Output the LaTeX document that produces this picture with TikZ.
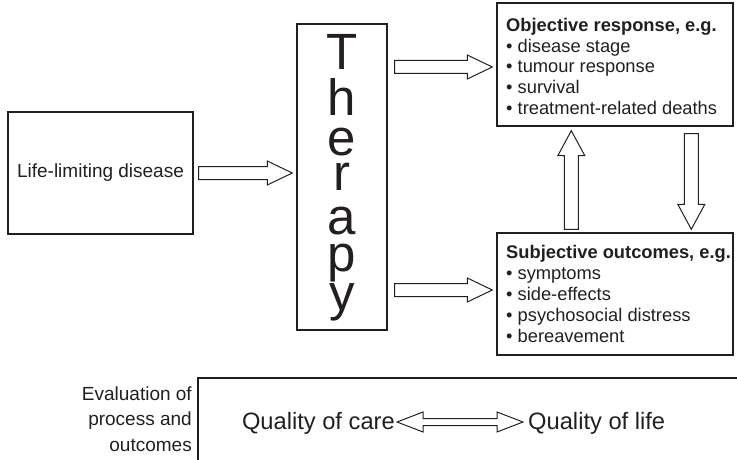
\documentclass[tikz,border=0pt]{standalone}
\usepackage{fontspec}
\setmainfont{Liberation Sans}
\usetikzlibrary{calc}
\definecolor{ink}{HTML}{231F20}
\newcommand\harrowblk[2]{\draw[blk] let \p1=(#1), \p2=(#2) in
  (\x1,\y1+6.5pt) -- (\x2-25pt,\y1+6.5pt) -- (\x2-25pt,\y1+12pt) -- (\x2,\y1)
  -- (\x2-25pt,\y1-12pt) -- (\x2-25pt,\y1-6.5pt) -- (\x1,\y1-6.5pt) -- cycle;}
\newcommand\uarrowblk[2]{\draw[blk] let \p1=(#1), \p2=(#2) in
  (\x1-7pt,\y1) -- (\x1-7pt,\y2-25pt) -- (\x1-13.5pt,\y2-25pt) -- (\x1,\y2)
  -- (\x1+13.5pt,\y2-25pt) -- (\x1+7pt,\y2-25pt) -- (\x1+7pt,\y1) -- cycle;}
\newcommand\darrowblk[2]{\draw[blk] let \p1=(#1), \p2=(#2) in
  (\x1-7pt,\y1) -- (\x1-7pt,\y2+25pt) -- (\x1-13.5pt,\y2+25pt) -- (\x1,\y2)
  -- (\x1+13.5pt,\y2+25pt) -- (\x1+7pt,\y2+25pt) -- (\x1+7pt,\y1) -- cycle;}
\newcommand\dblarrowblk[2]{\draw[blk] let \p1=(#1), \p2=(#2) in
  (\x1,\y1) -- (\x1+26pt,\y1+10pt) -- (\x1+26pt,\y1+3.5pt) -- (\x2-26pt,\y1+3.5pt)
  -- (\x2-26pt,\y1+10pt) -- (\x2,\y1) -- (\x2-26pt,\y1-10pt) -- (\x2-26pt,\y1-3.5pt)
  -- (\x1+26pt,\y1-3.5pt) -- (\x1+26pt,\y1-10pt) -- cycle;}
\begin{document}
\begin{tikzpicture}[x=1pt,y=-1pt,
  box/.style={draw=ink, line width=1.4pt, inner sep=0pt},
  blk/.style={draw=ink, line width=1pt, fill=white, line join=miter},
  txt/.style={text=ink, inner sep=0pt, font=\fontsize{18.3}{20.5}\selectfont},
  lbl/.style={text=ink, inner sep=0pt, font=\fontsize{19}{23}\selectfont},
  big/.style={text=ink, inner sep=0pt, font=\fontsize{23.7}{28}\selectfont},
  huge/.style={text=ink, inner sep=0pt, font=\fontsize{51}{40}\selectfont}]
\useasboundingbox (0,0) rectangle (737,460);

% boxes
\node[box, minimum width=185, minimum height=122, lbl] (disease) at (100.5,173) {Life-limiting disease};
\node[box, minimum width=90, minimum height=306] (therapy) at (342,177) {};
\node[box, minimum width=236, minimum height=123] (obj) at (615,64.5) {};
\node[box, minimum width=236, minimum height=122] (sub) at (615,294) {};

% Therapy letters (boxes fitted to the ink)
\foreach \l/\yy/\hh/\dd [count=\i] in {T/70/37/0, h/116/37/0, e/155/27.5/0, r/190/27/0, a/234/27.5/0, p/271/27.5/10.5, y/310/27/10.5}
  \node[huge, anchor=base, text height=\hh pt, text depth=\dd pt] (th\i) at (342,\yy) {\l};

% objective text
\node[txt, anchor=base west, font=\fontsize{18.3}{20.5}\selectfont\bfseries] (o1) at (506,32) {Objective response, e.g.};
\node[txt, anchor=base west] (o2) at (506,52.5) {• disease stage};
\node[txt, anchor=base west] (o3) at (506,73) {• tumour response};
\node[txt, anchor=base west] (o4) at (506,93.5) {• survival};
\node[txt, anchor=base west] (o5) at (506,114) {• treatment-related deaths};

% subjective text
\node[txt, anchor=base west, font=\fontsize{18.3}{20.5}\selectfont\bfseries] (s1) at (506,258) {Subjective outcomes, e.g.};
\node[txt, anchor=base west] (s2) at (506,279) {• symptoms};
\node[txt, anchor=base west] (s3) at (506,300) {• side-effects};
\node[txt, anchor=base west] (s4) at (506,321) {• psychosocial distress};
\node[txt, anchor=base west] (s5) at (506,342) {• bereavement};

% block arrows
\harrowblk{$(disease.east)+(5,0)$}{$(therapy.west)+(-4,0)$}
\harrowblk{$(therapy.east |- obj.west)+(7,2.5)$}{$(obj.west)+(-4,0)$}
\harrowblk{$(therapy.east |- sub.west)+(7,-4)$}{$(sub.west)+(-4,0)$}
\uarrowblk{$(sub.north west)+(75,-3)$}{$(obj.south west)+(75,4)$}
\darrowblk{$(obj.south west)+(195,7)$}{$(sub.north west)+(195,-3)$}

% evaluation panel
\coordinate (evtop) at (198,378);
\draw[draw=ink, line width=1.4pt] (198,470) -- (evtop) -- (750,378);
\node[lbl, anchor=base east] (e1) at (192,400) {Evaluation of};
\node[lbl, anchor=base east] (e2) at (192,425) {process and};
\node[lbl, anchor=base east] (e3) at (192,451) {outcomes};
\node[big, anchor=base east] (qc) at (395,429) {Quality of care};
\node[big, anchor=base west] (ql) at (528,429) {Quality of life};
\dblarrowblk{$(qc.base east)+(2,-7)$}{$(ql.base west)+(-5,-7)$}
\end{tikzpicture}
\end{document}
